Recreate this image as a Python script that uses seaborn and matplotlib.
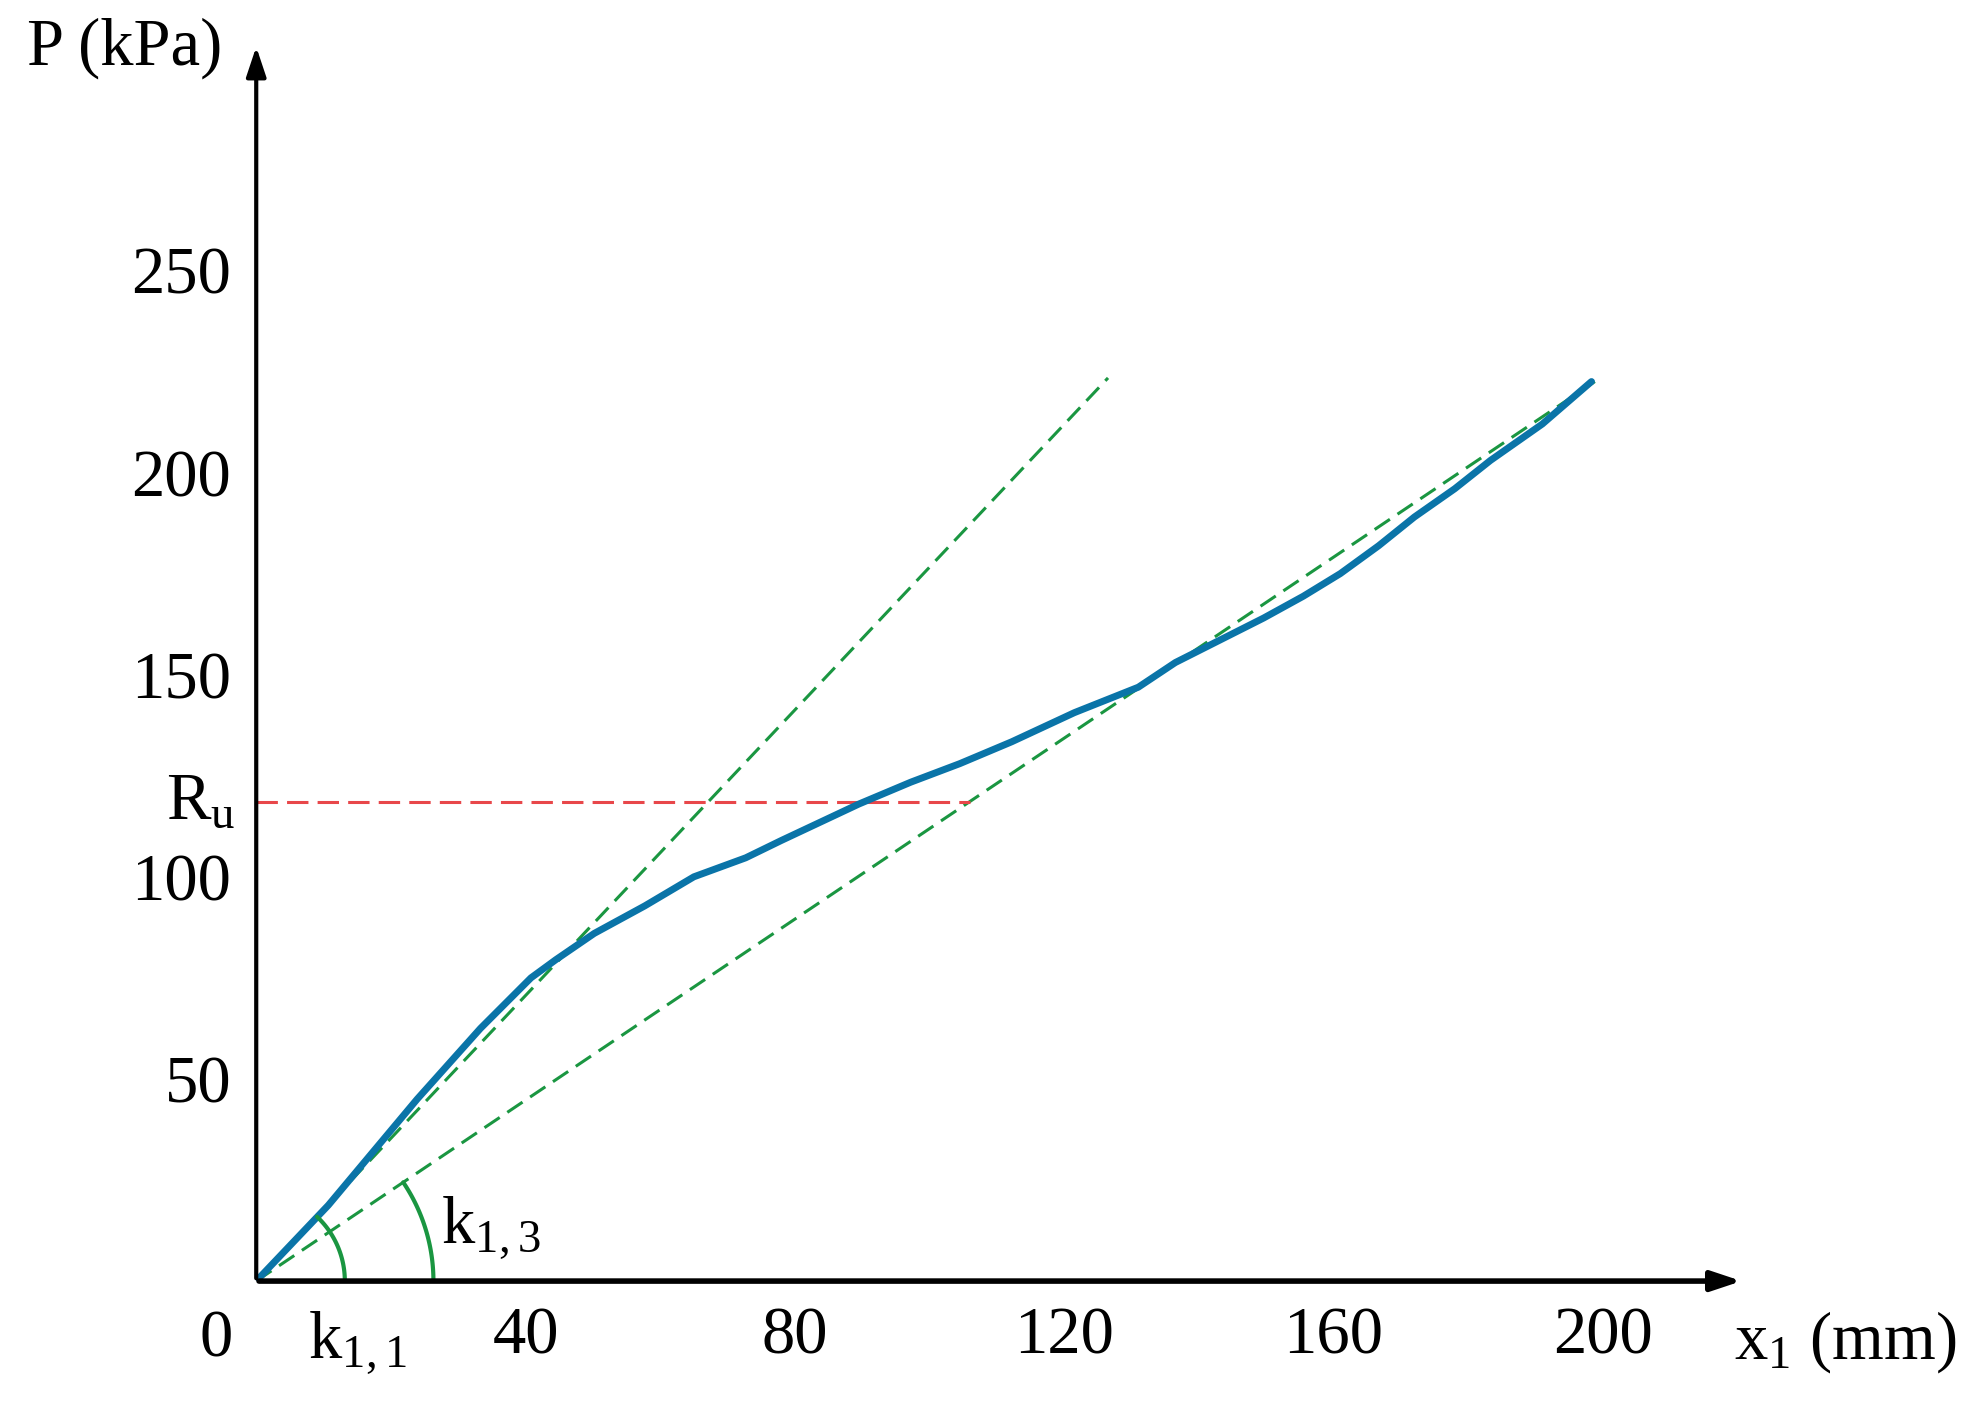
import numpy as np
import pandas as pd
import matplotlib
matplotlib.use("Agg")
import matplotlib.pyplot as plt
import seaborn as sns

x_mm = [0, 10.7, 23.9, 33.3, 40.8, 44.5, 50.2, 57.7, 65, 72.7, 78, 89.5, 97.2, 104.5, 112.2,
        121.5, 131, 136.5, 149.6, 155.5, 161, 166.7, 172, 178, 183.3, 191, 198.3]
p_kpa = [0, 18.75, 45, 62.5, 75, 79.5, 86, 92.8, 100, 104.7, 109, 118, 123.4, 128, 133.4,
         140.6, 146.9, 153, 164, 169.4, 175, 181.9, 189, 196, 203, 212, 222.5]
tan1 = ([0, 126.5], [0, 223.4])
tan3 = ([0, 198.8], [0, 222.5])
ru = 118.5
ru_end = 106
xticks = [40, 80, 120, 160, 200]
yticks = [50, 100, 150, 200, 250]

sns.set_theme(style="white")
plt.rcParams['font.family'] = ['Liberation Serif', 'DejaVu Serif']
plt.rcParams['mathtext.fontset'] = 'custom'
plt.rcParams['mathtext.rm'] = 'Liberation Serif'
plt.rcParams['mathtext.it'] = 'Liberation Serif'
plt.rcParams['mathtext.default'] = 'rm'
plt.rcParams['text.color'] = 'black'

fig = plt.figure(figsize=(19.71, 14.01), dpi=100)
ax = fig.add_axes([0.130, 0.0856, 0.755, 0.883])
ax.set_xlim(0, 221)
ax.set_ylim(0, 306)
for s in ax.spines.values():
    s.set_visible(False)

green = "#1a9641"
ax.plot(*tan1, ls=(0, (6, 3)), color=green, lw=2.2)
ax.plot(*tan3, ls=(0, (6, 3)), color=green, lw=2.2)
ax.plot([0, ru_end], [ru, ru], ls=(0, (7, 3)), color="#e8474a", lw=2.2)

df = pd.DataFrame({"x": x_mm, "p": p_kpa})
sns.lineplot(data=df, x="x", y="p", ax=ax, color="#0a74a8", lw=5, sort=False)

# arcs (in display-proportional units)
sx, sy = 5.32, 3.2
for r, (tx, ty) in [(70, tan1), (140, tan3)]:
    ang = np.arctan2(ty[1] * sy, tx[1] * sx)
    th = np.linspace(0, ang, 50)
    ax.plot(r * np.cos(th) / sx, r * np.sin(th) / sy, color=green, lw=3)

ax.annotate("", xy=(221, 0), xytext=(0, 0), annotation_clip=False,
            arrowprops=dict(arrowstyle="-|>,head_length=1.5,head_width=0.5", color="black", lw=4))
ax.annotate("", xy=(0, 306), xytext=(0, 0), annotation_clip=False,
            arrowprops=dict(arrowstyle="-|>,head_length=1.5,head_width=0.5", color="black", lw=3))

ax.set_xticks(xticks)
ax.set_yticks(yticks)
ax.tick_params(length=0, labelsize=48, pad=18, labelcolor="black")
ax.set_xlabel("")
ax.set_ylabel("")
fs = 48
ax.text(-6, -7, "0", fontsize=fs, ha="center", va="top")
ax.text(15, -7, r"k$_{1,1}$", fontsize=fs, ha="center", va="top")
ax.text(27.5, 5, r"k$_{1,3}$", fontsize=fs, ha="left", va="bottom")
ax.text(-3, ru, r"R$_\mathrm{u}$", fontsize=fs, ha="right", va="center")
ax.text(219.5, -7, r"x$_1$ (mm)", fontsize=fs, ha="left", va="top")
ax.text(-5, 305, "P (kPa)", fontsize=fs, ha="right", va="center")

fig.savefig("out.png", dpi=100)
